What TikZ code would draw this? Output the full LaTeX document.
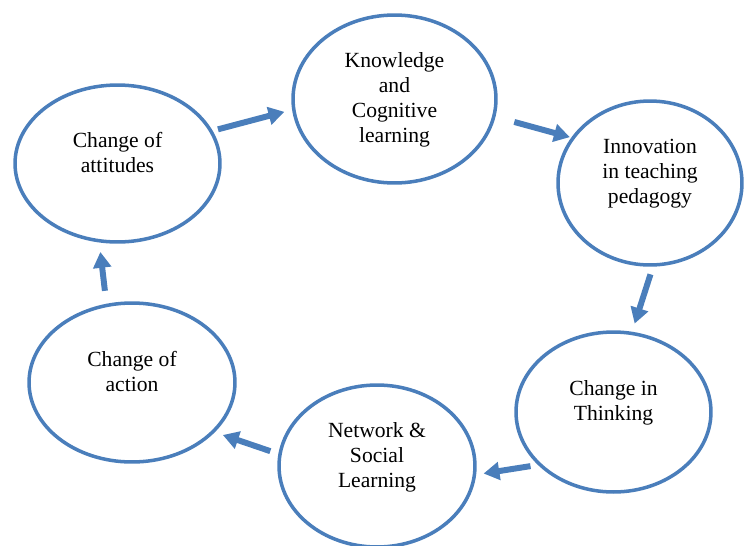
\documentclass[tikz,border=0pt]{standalone}
\usepackage{fontspec}
\setmainfont{Liberation Serif}
\usetikzlibrary{shapes.geometric, arrows.meta}
\definecolor{bubbleblue}{RGB}{74,126,187}
\tikzstyle{bubble} = [ellipse, draw=bubbleblue, line width=2pt, inner sep=0pt, align=center, text depth=13pt, font=\fontsize{12.3}{14.2}\selectfont]
\tikzstyle{arrow} = [draw=bubbleblue, line width=3.4pt, -{Triangle[length=9pt,width=10pt]}, bubbleblue]

\begin{document}
\begin{tikzpicture}[x=0.02cm, y=-0.02cm]
	\useasboundingbox (0,0) rectangle (744,545);
	\node (attitudes) [bubble, minimum width=4.1cm, minimum height=3.14cm] at (117.5,163.5) {Change of\\attitudes};
	\node (knowledge) [bubble, text depth=2pt, minimum width=4.06cm, minimum height=3.36cm] at (394.5,99) {Knowledge\\and\\Cognitive\\learning};
	\node (innovation) [bubble, minimum width=3.68cm, minimum height=3.28cm] at (650,183) {Innovation\\in teaching\\pedagogy};
	\node (thinking) [bubble, minimum width=3.9cm, minimum height=3.2cm] at (613.5,412) {Change in\\Thinking};
	\node (network) [bubble, minimum width=3.92cm, minimum height=3.24cm] at (377,466) {Network \&\\Social\\Learning};
	\node (action) [bubble, minimum width=4.12cm, minimum height=3.18cm] at (132,382.5) {Change of\\action};

	\draw [arrow, shorten <=0.11cm, shorten >=0.16cm] (attitudes.19) -- (knowledge.186);
	\draw [arrow, shorten <=0.39cm, shorten >=0.03cm] (knowledge.350) -- (innovation.150);
	\draw [arrow, shorten <=0.16cm, shorten >=0.17cm] (innovation.272) -- (thinking.77);
	\draw [arrow, shorten <=0.15cm, shorten >=0.15cm] (thinking.215) -- (network.355);
	\draw [arrow, shorten <=0.17cm, shorten >=0.17cm] (network.173) -- (action.329);
	\draw [arrow, shorten <=0.26cm, shorten >=0.19cm] (action.108) -- (attitudes.257);
\end{tikzpicture}
\end{document}
